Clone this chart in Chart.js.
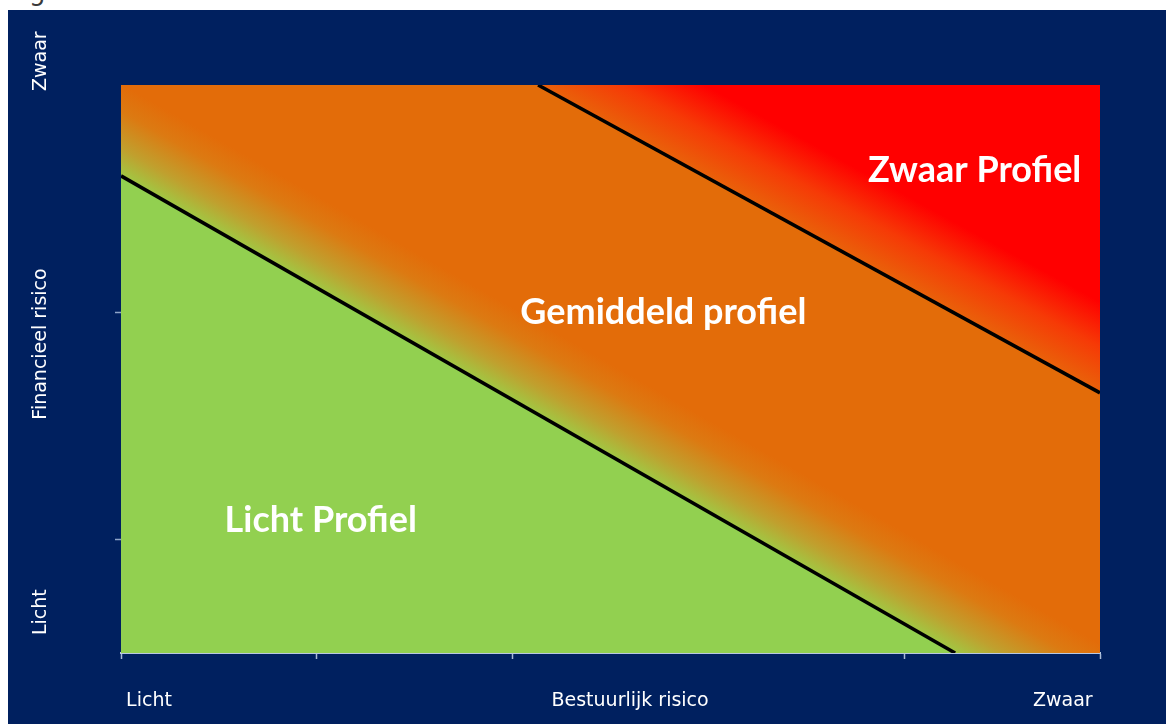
<!DOCTYPE html>
<html>
<head>
<meta charset="utf-8">
<script src="https://cdn.jsdelivr.net/npm/chart.js@4/dist/chart.umd.min.js"></script>
<style>
  html, body { margin: 0; padding: 0; background: #ffffff; }
  #kop { position: absolute; left: 0; top: 0; width: 200px; height: 10px; overflow: hidden; }
  #kop span { position: absolute; left: 29px; top: -22px; font: 26px/26px "DejaVu Sans", sans-serif; color: #3a3a3a; }
  #vak { position: absolute; left: 8px; top: 10px; width: 1158px; height: 714px; background: #00205f; }
</style>
</head>
<body>
<div id="kop"><span>g</span></div>
<div id="vak"><canvas id="grafiekProfiel"></canvas></div>
<script>
// grenslijnen tussen de profielen (x = bestuurlijk risico, y = financieel risico, schaal 0..5)
let lijnLicht = [{x: 0, y: 4.2}, {x: 4.26, y: 0}]
let lijnZwaar = [{x: 2.13, y: 5}, {x: 5, y: 2.29}]
let bovenrand = [{x: 0, y: 5}, {x: 5, y: 5}]

// teksten in de vlakken
let profielNamen = ['Zwaar Profiel', 'Gemiddeld profiel', 'Licht Profiel']
let profielX = [4.36, 2.77, 1.02]
let profielY = [4.25, 3.0, 1.17]

// as-labels
let xTickWaarden = [0, 0.143, 1, 2, 2.6, 3, 4, 4.81, 5]
let xTickTeksten = ['', 'Licht', '', '', 'Bestuurlijk risico', '', '', 'Zwaar', '']
let xStreepjes = [0, 1, 2, 4, 5]
let yStreepjes = [1, 3]
let yTeksten = ['Zwaar', 'Financieel risico', 'Licht']
let yWaarden = [5.21, 2.72, 0.36]

const groen = '#92d050'
const oranje = '#e36c09'
const rood = '#ff0000'

function verloop(chart, lijn, breedte, stops) {
  const {ctx, chartArea, scales} = chart
  if (!chartArea) return stops[stops.length - 1][1]
  const ax = scales.x.getPixelForValue(lijn[0].x), ay = scales.y.getPixelForValue(lijn[0].y)
  const bx = scales.x.getPixelForValue(lijn[1].x), by = scales.y.getPixelForValue(lijn[1].y)
  const dx = bx - ax, dy = by - ay
  const len = Math.sqrt(dx * dx + dy * dy)
  const nx = dy / len, ny = -dx / len
  const g = ctx.createLinearGradient(ax, ay, ax + nx * breedte, ay + ny * breedte)
  stops.forEach(s => g.addColorStop(s[0], s[1]))
  return g
}

const profielTeksten = {
  id: 'profielTeksten',
  afterDatasetsDraw(chart) {
    const {ctx, scales} = chart
    ctx.save()
    ctx.fillStyle = '#ffffff'
    ctx.font = 'bold 36px Lato'
    ctx.textAlign = 'center'
    ctx.textBaseline = 'middle'
    profielNamen.forEach((t, i) => {
      ctx.fillText(t, scales.x.getPixelForValue(profielX[i]), scales.y.getPixelForValue(profielY[i]))
    })
    ctx.restore()
  },
  afterDraw(chart) {
    const {ctx, scales} = chart
    ctx.save()
    ctx.fillStyle = '#ffffff'
    ctx.font = '19px "DejaVu Sans"'
    ctx.textAlign = 'center'
    ctx.textBaseline = 'middle'
    yTeksten.forEach((t, i) => {
      ctx.save()
      ctx.translate(33, scales.y.getPixelForValue(yWaarden[i]))
      ctx.rotate(-Math.PI / 2)
      ctx.fillText(t, 0, 0)
      ctx.restore()
    })
    ctx.restore()
  }
}

let grafiek = new Chart(document.getElementById('grafiekProfiel'), {
  type: 'scatter',
  data: {
    datasets: [{
      label: 'Licht profiel',
      data: lijnLicht,
      showLine: true,
      fill: 'origin',
      backgroundColor: groen,
      borderColor: '#000000',
      borderWidth: 3.5,
      pointRadius: 0,
      order: 1
    }, {
      label: 'Zwaar profiel',
      data: lijnZwaar,
      showLine: true,
      fill: 'end',
      backgroundColor: c => verloop(c.chart, lijnZwaar, 80, [[0, '#e9620a'], [0.5, '#f63a06'], [1, rood]]),
      borderColor: '#000000',
      borderWidth: 3.5,
      pointRadius: 0,
      order: 2
    }, {
      label: 'Gemiddeld profiel',
      data: bovenrand,
      showLine: true,
      fill: 'origin',
      backgroundColor: c => verloop(c.chart, lijnLicht, 80, [[0, '#a0c844'], [0.3, '#c0a02e'], [0.7, '#dc7a12'], [1, oranje]]),
      borderWidth: 0,
      pointRadius: 0,
      order: 3
    }]
  },
  options: {
    responsive: true,
    maintainAspectRatio: false,
    animation: false,
    layout: { padding: { top: 75, right: 66, left: 0, bottom: 0 } },
    plugins: {
      legend: { display: false },
      tooltip: { enabled: false }
    },
    scales: {
      x: {
        type: 'linear',
        min: 0,
        max: 5,
        afterBuildTicks: s => { s.ticks = xTickWaarden.map(v => ({value: v})) },
        afterFit: s => { s.height = 71 },
        grid: {
          drawOnChartArea: false,
          tickLength: 6,
          tickWidth: 1.5,
          tickColor: c => xStreepjes.includes(c.tick.value) ? '#a8bad6' : 'rgba(0,0,0,0)'
        },
        border: { display: true, color: '#b8c8e2', width: 2 },
        ticks: {
          autoSkip: false,
          maxRotation: 0,
          padding: 31,
          color: '#ffffff',
          font: { family: 'DejaVu Sans', size: 19 },
          callback: (v, i) => xTickTeksten[i]
        }
      },
      y: {
        type: 'linear',
        min: 0,
        max: 5,
        afterFit: s => { s.width = 113 },
        grid: {
          drawOnChartArea: false,
          tickLength: 6,
          tickWidth: 1.5,
          tickColor: c => yStreepjes.includes(c.tick.value) ? '#8fa4c8' : 'rgba(0,0,0,0)'
        },
        border: { display: false },
        ticks: { stepSize: 1, display: false }
      }
    }
  },
  plugins: [profielTeksten]
})
</script>
</body>
</html>
